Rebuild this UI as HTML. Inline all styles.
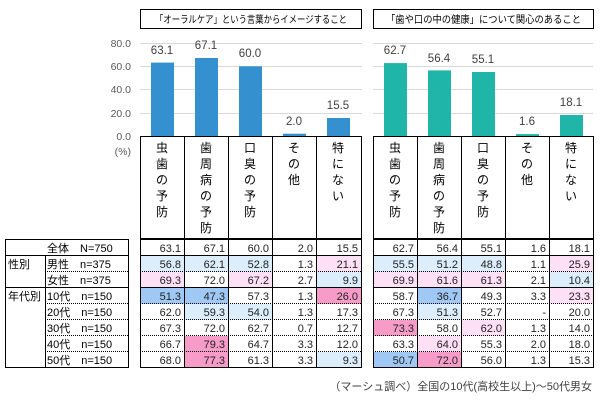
<!DOCTYPE html><html><head><meta charset="utf-8"><style>body{margin:0;background:#fff}svg{display:block;font-family:"Liberation Sans","Noto Sans CJK JP",sans-serif}</style></head><body>
<svg width="600" height="400" viewBox="0 0 600 400" xmlns="http://www.w3.org/2000/svg">
<g font-size="11" fill="#333">
<rect x="140.5" y="9.5" width="221" height="19" fill="#fff" stroke="#000"/>
<text x="155" y="23" font-size="10" textLength="192" lengthAdjust="spacingAndGlyphs" fill="#000">「オーラルケア」という言葉からイメージすること</text>
<rect x="373.5" y="9.5" width="220" height="19" fill="#fff" stroke="#000"/>
<text x="386" y="23" font-size="10" textLength="195" lengthAdjust="spacingAndGlyphs" fill="#000">「歯や口の中の健康」について関心のあること</text>
<g stroke="#d9d9d9">
<line x1="140" y1="43.5" x2="362" y2="43.5"/><line x1="140" y1="66.5" x2="362" y2="66.5"/><line x1="140" y1="89.5" x2="362" y2="89.5"/><line x1="140" y1="113.5" x2="362" y2="113.5"/>
<line x1="373" y1="43.5" x2="593" y2="43.5"/><line x1="373" y1="66.5" x2="593" y2="66.5"/><line x1="373" y1="89.5" x2="593" y2="89.5"/><line x1="373" y1="113.5" x2="593" y2="113.5"/>
</g>
<g text-anchor="end" fill="#595959" font-size="10.5">
<text x="131" y="47">80.0</text><text x="131" y="70">60.0</text><text x="131" y="93">40.0</text><text x="131" y="117">20.0</text><text x="131" y="140">0.0</text>
<text x="131" y="155">(%)</text></g>
<g fill="#3590d0">
<rect x="151" y="62.6" width="23" height="73.4"/><rect x="195" y="58" width="23" height="78"/><rect x="239" y="66.3" width="23" height="69.7"/><rect x="283" y="133.7" width="23" height="2.3"/><rect x="327" y="118" width="23" height="18"/>
</g>
<g fill="#1fb5a8">
<rect x="384" y="63.1" width="23" height="72.9"/><rect x="428" y="70.4" width="23" height="65.6"/><rect x="472" y="72" width="23" height="64"/><rect x="516" y="134.1" width="23" height="1.9"/><rect x="560" y="115" width="23" height="21"/>
</g>
<g text-anchor="middle" font-size="11.5" fill="#404040">
<text x="162" y="54">63.1</text><text x="206" y="49">67.1</text><text x="250" y="57">60.0</text><text x="294" y="125">2.0</text><text x="338" y="109">15.5</text>
<text x="395" y="54">62.7</text><text x="439" y="62">56.4</text><text x="483" y="63">55.1</text><text x="527" y="125">1.6</text><text x="571" y="106">18.1</text>
</g>
<g fill="none" stroke="#000">
<rect x="140.5" y="136.5" width="221" height="102"/><line x1="184.5" y1="136" x2="184.5" y2="239"/><line x1="228.5" y1="136" x2="228.5" y2="239"/><line x1="272.5" y1="136" x2="272.5" y2="239"/><line x1="316.5" y1="136" x2="316.5" y2="239"/>
<rect x="373.5" y="136.5" width="220" height="102"/><line x1="417.5" y1="136" x2="417.5" y2="239"/><line x1="461.5" y1="136" x2="461.5" y2="239"/><line x1="505.5" y1="136" x2="505.5" y2="239"/><line x1="549.5" y1="136" x2="549.5" y2="239"/>
</g>
<g text-anchor="middle" font-size="12" fill="#000">
<text x="162" y="152">虫</text><text x="162" y="168">歯</text><text x="162" y="184">の</text><text x="162" y="200">予</text><text x="162" y="216">防</text>
<text x="206" y="152">歯</text><text x="206" y="168">周</text><text x="206" y="184">病</text><text x="206" y="200">の</text><text x="206" y="216">予</text><text x="206" y="232">防</text>
<text x="250" y="152">口</text><text x="250" y="168">臭</text><text x="250" y="184">の</text><text x="250" y="200">予</text><text x="250" y="216">防</text>
<text x="294" y="152">そ</text><text x="294" y="168">の</text><text x="294" y="184">他</text>
<text x="338" y="152">特</text><text x="338" y="168">に</text><text x="338" y="184">な</text><text x="338" y="200">い</text>
<text x="395" y="152">虫</text><text x="395" y="168">歯</text><text x="395" y="184">の</text><text x="395" y="200">予</text><text x="395" y="216">防</text>
<text x="439" y="152">歯</text><text x="439" y="168">周</text><text x="439" y="184">病</text><text x="439" y="200">の</text><text x="439" y="216">予</text><text x="439" y="232">防</text>
<text x="483" y="152">口</text><text x="483" y="168">臭</text><text x="483" y="184">の</text><text x="483" y="200">予</text><text x="483" y="216">防</text>
<text x="527" y="152">そ</text><text x="527" y="168">の</text><text x="527" y="184">他</text>
<text x="571" y="152">特</text><text x="571" y="168">に</text><text x="571" y="184">な</text><text x="571" y="200">い</text>
</g>
<g>
<rect x="141" y="256" width="43" height="16" fill="#dcedfb"/><rect x="185" y="256" width="43" height="16" fill="#dcedfb"/><rect x="229" y="256" width="43" height="16" fill="#dcedfb"/><rect x="317" y="256" width="44" height="16" fill="#fde0f6"/>
<rect x="141" y="272" width="43" height="16" fill="#fde0f6"/><rect x="229" y="272" width="43" height="16" fill="#fde0f6"/><rect x="317" y="272" width="44" height="16" fill="#dcedfb"/>
<rect x="141" y="288" width="43" height="16" fill="#9fc9f4"/><rect x="185" y="288" width="43" height="16" fill="#9fc9f4"/><rect x="317" y="288" width="44" height="16" fill="#f79bc9"/>
<rect x="185" y="304" width="43" height="16" fill="#dcedfb"/><rect x="229" y="304" width="43" height="16" fill="#dcedfb"/>
<rect x="185" y="336" width="43" height="16" fill="#f79bc9"/>
<rect x="185" y="352" width="43" height="16" fill="#f79bc9"/><rect x="317" y="352" width="44" height="16" fill="#dcedfb"/>
<rect x="374" y="256" width="43" height="16" fill="#dcedfb"/><rect x="418" y="256" width="43" height="16" fill="#dcedfb"/><rect x="462" y="256" width="43" height="16" fill="#dcedfb"/><rect x="550" y="256" width="43" height="16" fill="#fde0f6"/>
<rect x="374" y="272" width="43" height="16" fill="#fde0f6"/><rect x="418" y="272" width="43" height="16" fill="#fde0f6"/><rect x="462" y="272" width="43" height="16" fill="#fde0f6"/><rect x="550" y="272" width="43" height="16" fill="#dcedfb"/>
<rect x="418" y="288" width="43" height="16" fill="#9fc9f4"/><rect x="550" y="288" width="43" height="16" fill="#fde0f6"/>
<rect x="418" y="304" width="43" height="16" fill="#dcedfb"/>
<rect x="374" y="320" width="43" height="16" fill="#f79bc9"/><rect x="462" y="320" width="43" height="16" fill="#fde0f6"/>
<rect x="418" y="336" width="43" height="16" fill="#fde0f6"/>
<rect x="374" y="352" width="43" height="16" fill="#9fc9f4"/><rect x="418" y="352" width="43" height="16" fill="#f79bc9"/>
</g>
<g stroke="#000" fill="none">
<rect x="140.5" y="239.5" width="221" height="128"/><rect x="373.5" y="239.5" width="220" height="128"/><rect x="5.5" y="239.5" width="123" height="128"/>
<line x1="184.5" y1="239" x2="184.5" y2="368"/><line x1="228.5" y1="239" x2="228.5" y2="368"/><line x1="272.5" y1="239" x2="272.5" y2="368"/><line x1="316.5" y1="239" x2="316.5" y2="368"/>
<line x1="417.5" y1="239" x2="417.5" y2="368"/><line x1="461.5" y1="239" x2="461.5" y2="368"/><line x1="505.5" y1="239" x2="505.5" y2="368"/><line x1="549.5" y1="239" x2="549.5" y2="368"/>
<line x1="45.5" y1="256" x2="45.5" y2="368"/>
<line x1="5" y1="255.5" x2="129" y2="255.5"/><line x1="140" y1="255.5" x2="362" y2="255.5"/><line x1="373" y1="255.5" x2="594" y2="255.5"/>
<line x1="5" y1="287.5" x2="129" y2="287.5"/><line x1="140" y1="287.5" x2="362" y2="287.5"/><line x1="373" y1="287.5" x2="594" y2="287.5"/>
</g>
<g stroke="#000" stroke-dasharray="1,1">
<line x1="45" y1="271.5" x2="129" y2="271.5"/><line x1="140" y1="271.5" x2="362" y2="271.5"/><line x1="373" y1="271.5" x2="594" y2="271.5"/>
<line x1="45" y1="303.5" x2="129" y2="303.5"/><line x1="140" y1="303.5" x2="362" y2="303.5"/><line x1="373" y1="303.5" x2="594" y2="303.5"/>
<line x1="45" y1="319.5" x2="129" y2="319.5"/><line x1="140" y1="319.5" x2="362" y2="319.5"/><line x1="373" y1="319.5" x2="594" y2="319.5"/>
<line x1="45" y1="335.5" x2="129" y2="335.5"/><line x1="140" y1="335.5" x2="362" y2="335.5"/><line x1="373" y1="335.5" x2="594" y2="335.5"/>
<line x1="45" y1="351.5" x2="129" y2="351.5"/><line x1="140" y1="351.5" x2="362" y2="351.5"/><line x1="373" y1="351.5" x2="594" y2="351.5"/>
</g>
<g font-size="11" fill="#000">
<text x="47" y="252">全体　N=750</text>
<text x="8" y="268">性別</text><text x="47" y="268">男性　n=375</text><text x="47" y="284">女性　n=375</text>
<text x="8" y="300">年代別</text><text x="47" y="300">10代　n=150</text><text x="47" y="316">20代　n=150</text><text x="47" y="332">30代　n=150</text><text x="47" y="348">40代　n=150</text><text x="47" y="364">50代　n=150</text>
</g>
<g font-size="11" fill="#222" text-anchor="end">
<text x="181" y="252">63.1</text><text x="225" y="252">67.1</text><text x="269" y="252">60.0</text><text x="313" y="252">2.0</text><text x="358" y="252">15.5</text>
<text x="181" y="268">56.8</text><text x="225" y="268">62.1</text><text x="269" y="268">52.8</text><text x="313" y="268">1.3</text><text x="358" y="268">21.1</text>
<text x="181" y="284">69.3</text><text x="225" y="284">72.0</text><text x="269" y="284">67.2</text><text x="313" y="284">2.7</text><text x="358" y="284">9.9</text>
<text x="181" y="300">51.3</text><text x="225" y="300">47.3</text><text x="269" y="300">57.3</text><text x="313" y="300">1.3</text><text x="358" y="300">26.0</text>
<text x="181" y="316">62.0</text><text x="225" y="316">59.3</text><text x="269" y="316">54.0</text><text x="313" y="316">1.3</text><text x="358" y="316">17.3</text>
<text x="181" y="332">67.3</text><text x="225" y="332">72.0</text><text x="269" y="332">62.7</text><text x="313" y="332">0.7</text><text x="358" y="332">12.7</text>
<text x="181" y="348">66.7</text><text x="225" y="348">79.3</text><text x="269" y="348">64.7</text><text x="313" y="348">3.3</text><text x="358" y="348">12.0</text>
<text x="181" y="364">68.0</text><text x="225" y="364">77.3</text><text x="269" y="364">61.3</text><text x="313" y="364">3.3</text><text x="358" y="364">9.3</text>
<text x="414" y="252">62.7</text><text x="458" y="252">56.4</text><text x="502" y="252">55.1</text><text x="546" y="252">1.6</text><text x="590" y="252">18.1</text>
<text x="414" y="268">55.5</text><text x="458" y="268">51.2</text><text x="502" y="268">48.8</text><text x="546" y="268">1.1</text><text x="590" y="268">25.9</text>
<text x="414" y="284">69.9</text><text x="458" y="284">61.6</text><text x="502" y="284">61.3</text><text x="546" y="284">2.1</text><text x="590" y="284">10.4</text>
<text x="414" y="300">58.7</text><text x="458" y="300">36.7</text><text x="502" y="300">49.3</text><text x="546" y="300">3.3</text><text x="590" y="300">23.3</text>
<text x="414" y="316">67.3</text><text x="458" y="316">51.3</text><text x="502" y="316">52.7</text><text x="546" y="316">-</text><text x="590" y="316">20.0</text>
<text x="414" y="332">73.3</text><text x="458" y="332">58.0</text><text x="502" y="332">62.0</text><text x="546" y="332">1.3</text><text x="590" y="332">14.0</text>
<text x="414" y="348">63.3</text><text x="458" y="348">64.0</text><text x="502" y="348">55.3</text><text x="546" y="348">2.0</text><text x="590" y="348">18.0</text>
<text x="414" y="364">50.7</text><text x="458" y="364">72.0</text><text x="502" y="364">56.0</text><text x="546" y="364">1.3</text><text x="590" y="364">15.3</text>
</g>
<text x="592" y="390" text-anchor="end" font-size="11" fill="#404040">（マーシュ調べ）全国の10代(高校生以上)～50代男女</text>
</g>
</svg>
</body></html>
